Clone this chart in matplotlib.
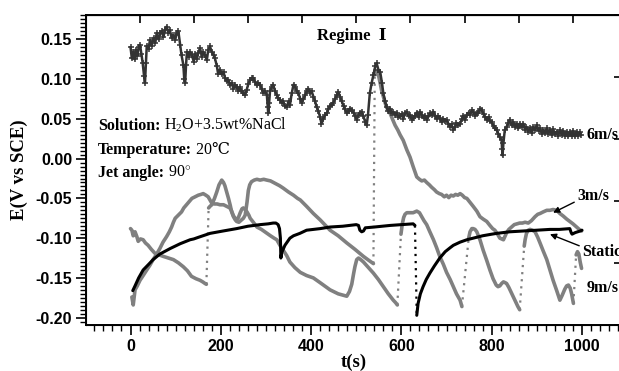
import matplotlib
matplotlib.use("Agg")
import matplotlib.pyplot as plt
from matplotlib.ticker import MultipleLocator, FixedLocator, NullFormatter

plt.rcParams["mathtext.fontset"] = "custom"
plt.rcParams["mathtext.rm"] = "Liberation Serif"
plt.rcParams["mathtext.bf"] = "Liberation Serif:bold"

SERIF = ["Liberation Serif", "DejaVu Serif", "Noto Sans CJK SC"]

# ---- 6 m/s (dark, noisy) ----
t_6ms = [0, 3, 6, 9, 12, 15, 18, 21, 24, 27, 30, 32, 34, 36, 40, 43, 47, 51, 55, 58,
         62, 66, 69, 73, 76, 80, 84, 87, 91, 95, 99, 102, 106, 110, 113, 117, 119, 121, 123, 125,
         129, 132, 136, 140, 143, 147, 150, 154, 158, 161, 165, 169, 172, 176, 180, 184, 187, 191, 194, 198,
         202, 206, 209, 213, 217, 220, 224, 228, 231, 235, 239, 242, 246, 250, 254, 257, 261, 265, 268, 272,
         276, 280, 283, 287, 291, 294, 298, 302, 304, 305, 307, 309, 313, 316, 320, 324, 327, 331, 335, 338,
         342, 346, 350, 353, 357, 361, 365, 368, 372, 376, 379, 383, 387, 390, 394, 398, 401, 405, 409, 412,
         416, 420, 423, 427, 431, 435, 438, 442, 446, 449, 453, 457, 460, 464, 468, 472, 475, 479, 483, 486,
         490, 494, 497, 501, 505, 508, 512, 516, 520, 523, 526, 530, 534, 538, 542, 545, 549, 553, 557, 560,
         564, 567, 571, 575, 578, 582, 586, 590, 593, 597, 601, 604, 608, 612, 616, 619, 623, 626, 630, 634,
         638, 641, 645, 649, 652, 656, 660, 664, 667, 671, 675, 678, 682, 685, 689, 693, 697, 700, 704, 708,
         711, 715, 719, 722, 726, 730, 734, 737, 741, 745, 749, 752, 756, 759, 763, 767, 770, 774, 778, 782,
         785, 789, 793, 796, 800, 804, 807, 811, 815, 818, 822, 823, 824, 826, 829, 833, 837, 840, 844, 848,
         851, 855, 859, 862, 866, 870, 874, 877, 881, 885, 889, 892, 896, 900, 904, 907, 911, 914, 918, 922,
         925, 929, 933, 936, 940, 944, 947, 951, 955, 958, 962, 966, 969, 973, 977, 980, 984, 988, 991, 995, 998]
e_6ms = [0.140, 0.126, 0.134, 0.125, 0.137, 0.129, 0.140, 0.143, 0.132, 0.120, 0.104, 0.095, 0.120, 0.142, 0.138, 0.149, 0.142, 0.152, 0.146, 0.158,
         0.150, 0.158, 0.160, 0.153, 0.162, 0.166, 0.158, 0.162, 0.152, 0.155, 0.149, 0.158, 0.160, 0.143, 0.130, 0.118, 0.100, 0.095, 0.118, 0.134,
         0.128, 0.134, 0.130, 0.122, 0.131, 0.125, 0.133, 0.139, 0.128, 0.134, 0.130, 0.124, 0.136, 0.141, 0.134, 0.130, 0.126, 0.117, 0.107, 0.112,
         0.106, 0.109, 0.102, 0.097, 0.099, 0.092, 0.095, 0.088, 0.093, 0.090, 0.085, 0.090, 0.085, 0.082, 0.080, 0.086, 0.094, 0.099, 0.101, 0.101,
         0.096, 0.092, 0.095, 0.093, 0.087, 0.083, 0.085, 0.080, 0.065, 0.057, 0.070, 0.085, 0.090, 0.093, 0.085, 0.080, 0.076, 0.074, 0.070, 0.072,
         0.066, 0.065, 0.072, 0.067, 0.082, 0.093, 0.090, 0.085, 0.082, 0.075, 0.070, 0.075, 0.080, 0.085, 0.088, 0.082, 0.085, 0.078, 0.072, 0.065,
         0.060, 0.052, 0.044, 0.050, 0.055, 0.057, 0.062, 0.066, 0.068, 0.070, 0.075, 0.080, 0.084, 0.078, 0.072, 0.066, 0.062, 0.057, 0.060, 0.063,
         0.061, 0.058, 0.054, 0.049, 0.055, 0.058, 0.059, 0.053, 0.046, 0.042, 0.055, 0.082, 0.095, 0.105, 0.116, 0.120, 0.112, 0.109, 0.095, 0.082,
         0.072, 0.065, 0.060, 0.063, 0.058, 0.059, 0.055, 0.058, 0.052, 0.053, 0.056, 0.050, 0.057, 0.059, 0.053, 0.055, 0.049, 0.051, 0.054, 0.058,
         0.052, 0.059, 0.055, 0.051, 0.054, 0.049, 0.053, 0.057, 0.055, 0.059, 0.054, 0.050, 0.053, 0.051, 0.046, 0.050, 0.047, 0.049, 0.044, 0.040,
         0.043, 0.036, 0.040, 0.045, 0.042, 0.044, 0.050, 0.054, 0.049, 0.055, 0.058, 0.055, 0.061, 0.059, 0.054, 0.058, 0.057, 0.063, 0.061, 0.056,
         0.052, 0.049, 0.052, 0.047, 0.046, 0.041, 0.038, 0.036, 0.031, 0.027, 0.023, 0.012, 0.004, 0.020, 0.036, 0.040, 0.045, 0.049, 0.042, 0.046,
         0.040, 0.044, 0.038, 0.044, 0.040, 0.044, 0.036, 0.040, 0.034, 0.038, 0.032, 0.040, 0.036, 0.042, 0.035, 0.038, 0.031, 0.036, 0.032, 0.038,
         0.031, 0.036, 0.030, 0.037, 0.031, 0.034, 0.029, 0.036, 0.030, 0.035, 0.029, 0.034, 0.028, 0.034, 0.029, 0.035, 0.028, 0.034, 0.029, 0.033, 0.030]

# ---- 3 m/s (gray), split at the potential jumps ----
t_3ms_a = [0, 3, 6, 10, 14, 17, 22, 28, 33, 39, 46, 54, 63, 73, 84, 95, 106, 117, 126, 135, 145, 154, 160, 165, 168]
e_3ms_a = [-0.088, -0.090, -0.097, -0.092, -0.098, -0.104, -0.101, -0.102, -0.106, -0.109, -0.114, -0.119, -0.121,
           -0.123, -0.125, -0.127, -0.131, -0.136, -0.141, -0.148, -0.151, -0.153, -0.155, -0.157, -0.158]
t_3ms_b = [173, 176, 180, 186, 191, 196, 202, 206, 209, 213, 217, 221, 224, 228, 232, 235, 240, 246, 250, 254,
           258, 261, 264, 268, 274, 280, 287, 295, 302, 310, 320, 330, 338, 350, 361, 370, 376, 390, 405, 420,
           442, 460, 479, 497, 516, 528, 538]
e_3ms_b = [-0.062, -0.060, -0.058, -0.050, -0.042, -0.033, -0.027, -0.030, -0.034, -0.042, -0.050, -0.059, -0.067,
           -0.073, -0.077, -0.079, -0.080, -0.077, -0.075, -0.071, -0.055, -0.040, -0.033, -0.029, -0.027, -0.026,
           -0.027, -0.026, -0.027, -0.028, -0.031, -0.034, -0.037, -0.042, -0.046, -0.050, -0.052, -0.060, -0.069,
           -0.077, -0.090, -0.097, -0.106, -0.114, -0.123, -0.128, -0.132]
t_3ms_c = [541, 544, 548, 553, 556, 560, 564, 567, 571, 575, 580, 586, 592, 597, 604, 612, 619, 626, 634, 640,
           645, 651, 656, 662, 667, 673, 678, 684, 689, 695, 700, 705, 710, 715, 720, 725, 730, 735, 740, 745,
           752, 759, 767, 774, 781, 789, 796, 802, 807, 813, 818, 822, 826, 830, 833, 838, 844, 850, 856, 862,
           868, 874, 881, 888, 896, 902, 907, 914, 922, 929, 936, 944, 951, 958, 966, 973, 980, 988, 994, 999]
e_3ms_c = [0.111, 0.106, 0.108, 0.095, 0.086, 0.078, 0.070, 0.065, 0.060, 0.057, 0.050, 0.042, 0.036, 0.030, 0.023,
           0.011, 0.002, -0.010, -0.023, -0.026, -0.028, -0.027, -0.030, -0.033, -0.036, -0.039, -0.042, -0.044,
           -0.045, -0.048, -0.046, -0.049, -0.046, -0.047, -0.045, -0.046, -0.044, -0.046, -0.049, -0.050, -0.055,
           -0.060, -0.066, -0.073, -0.076, -0.079, -0.084, -0.088, -0.090, -0.095, -0.100, -0.101, -0.102, -0.097,
           -0.093, -0.089, -0.086, -0.083, -0.082, -0.081, -0.081, -0.080, -0.081, -0.078, -0.073, -0.070, -0.069,
           -0.067, -0.065, -0.065, -0.064, -0.065, -0.069, -0.072, -0.076, -0.079, -0.082, -0.086, -0.089, -0.091]

# ---- 9 m/s (gray sawtooth) ----
t_9ms_a = [3, 6, 10, 15, 21, 28, 36, 43, 50, 58, 65, 72, 80, 86, 91, 95, 99, 106, 113, 118, 124, 130, 136, 143,
           150, 156, 161, 167, 172, 176, 180, 186, 192, 198, 206, 213, 220, 224, 228, 232, 235, 239, 243, 247,
           250, 254, 258, 262, 265, 272, 280, 290, 300, 310, 318, 324, 331, 338, 346, 353, 364, 376, 390, 405,
           420, 442, 460, 479, 485, 490, 494, 497, 501, 505, 510, 516, 527, 538, 549, 560, 571, 582, 587, 591]
e_9ms_a = [-0.174, -0.184, -0.165, -0.160, -0.153, -0.147, -0.140, -0.134, -0.127, -0.120, -0.113, -0.105, -0.098,
           -0.092, -0.086, -0.080, -0.075, -0.071, -0.067, -0.062, -0.058, -0.054, -0.050, -0.048, -0.046, -0.045,
           -0.044, -0.046, -0.048, -0.052, -0.056, -0.057, -0.057, -0.058, -0.058, -0.060, -0.062, -0.066, -0.072,
           -0.075, -0.077, -0.074, -0.068, -0.063, -0.062, -0.064, -0.067, -0.071, -0.075, -0.080, -0.086, -0.089,
           -0.093, -0.097, -0.100, -0.102, -0.109, -0.115, -0.122, -0.130, -0.137, -0.143, -0.147, -0.150, -0.156,
           -0.165, -0.170, -0.173, -0.167, -0.158, -0.145, -0.136, -0.127, -0.125, -0.127, -0.130, -0.137, -0.144,
           -0.152, -0.161, -0.170, -0.178, -0.181, -0.184]
t_9ms_b = [599, 602, 605, 608, 612, 619, 626, 634, 640, 645, 650, 656, 663, 671, 678, 685, 693, 700, 708, 715, 722, 730, 734]
e_9ms_b = [-0.095, -0.082, -0.074, -0.070, -0.068, -0.068, -0.068, -0.066, -0.068, -0.073, -0.078, -0.083, -0.092,
           -0.102, -0.112, -0.123, -0.133, -0.143, -0.152, -0.161, -0.170, -0.178, -0.186]
t_9ms_c = [749, 752, 756, 759, 763, 767, 774, 781, 789, 796, 803, 810, 814, 818, 822, 826, 830, 833, 838, 843, 848, 853, 858, 862]
e_9ms_c = [-0.100, -0.092, -0.088, -0.088, -0.089, -0.092, -0.102, -0.115, -0.128, -0.140, -0.151, -0.159, -0.161,
           -0.160, -0.157, -0.155, -0.156, -0.157, -0.162, -0.168, -0.174, -0.180, -0.186, -0.190]
t_9ms_d = [872, 874, 877, 881, 885, 890, 896, 902, 907, 914, 922, 929, 936, 944, 951, 956, 962, 966, 970, 974, 977, 981]
e_9ms_d = [-0.110, -0.102, -0.094, -0.090, -0.089, -0.090, -0.092, -0.099, -0.106, -0.116, -0.127, -0.140, -0.153,
           -0.166, -0.178, -0.172, -0.164, -0.160, -0.159, -0.163, -0.170, -0.182]
t_9ms_e = [987, 990, 993, 996, 999]
e_9ms_e = [-0.121, -0.117, -0.120, -0.130, -0.138]

# ---- Static (black) ----
t_static_a = [5, 10, 18, 28, 40, 50, 65, 88, 110, 132, 140, 150, 176, 205, 235, 260, 287, 305, 316, 322, 327, 330,
              332, 333, 335, 342, 353, 361, 375, 390, 420, 442, 470, 500, 505, 508, 512, 516, 520, 540, 575, 600, 626, 630]
e_static_a = [-0.166, -0.160, -0.150, -0.140, -0.133, -0.127, -0.120, -0.113, -0.107, -0.102, -0.101, -0.099, -0.094,
              -0.091, -0.088, -0.085, -0.083, -0.082, -0.081, -0.081, -0.083, -0.088, -0.100, -0.125, -0.118, -0.109,
              -0.100, -0.097, -0.094, -0.090, -0.088, -0.086, -0.085, -0.083, -0.084, -0.090, -0.092, -0.091, -0.087,
              -0.086, -0.084, -0.083, -0.082, -0.084]
t_static_b = [634, 637, 642, 648, 655, 663, 673, 685, 697, 708, 715, 730, 745, 759, 780, 800, 811, 840, 870, 900,
              929, 950, 973, 976, 978, 985, 996, 1000]
e_static_b = [-0.197, -0.182, -0.170, -0.161, -0.152, -0.144, -0.135, -0.125, -0.117, -0.112, -0.109, -0.105, -0.102,
              -0.100, -0.097, -0.095, -0.094, -0.092, -0.091, -0.090, -0.089, -0.089, -0.088, -0.093, -0.095, -0.093,
              -0.091, -0.090]

x_major = [0, 200, 400, 600, 800, 1000]
y_major = [-0.20, -0.15, -0.10, -0.05, 0.00, 0.05, 0.10, 0.15]
top_ticks = [20, 140, 260, 380, 500, 620, 740, 860, 980]

DARK = "#333333"
GRAY = "#808080"


def draw_segments(ax, segs, color, lw):
    # solid pieces joined by the sparse "jump" points (drawn dotted)
    for i, (t, e) in enumerate(segs):
        ax.plot(t, e, color=color, lw=lw, solid_capstyle="round", zorder=3)
        if i > 0:
            tp, ep = segs[i - 1]
            ax.plot([tp[-1], t[0]], [ep[-1], e[0]], color=color, lw=1.6,
                    ls=(0, (1, 2.2)), zorder=2)


fig = plt.figure(figsize=(6.19, 3.71), dpi=100)
ax = fig.add_axes([86 / 619, 46 / 371, 536 / 619, 310 / 371])

draw_segments(ax, [(t_9ms_a, e_9ms_a), (t_9ms_b, e_9ms_b), (t_9ms_c, e_9ms_c),
                   (t_9ms_d, e_9ms_d), (t_9ms_e, e_9ms_e)], GRAY, 2.6)
draw_segments(ax, [(t_3ms_a, e_3ms_a), (t_3ms_b, e_3ms_b), (t_3ms_c, e_3ms_c)], GRAY, 2.6)
draw_segments(ax, [(t_static_a, e_static_a), (t_static_b, e_static_b)], "black", 2.2)
ax.plot(t_6ms, e_6ms, color=DARK, lw=1.8, marker="+", ms=5, mew=1.1, zorder=4)

ax.set_xlim(-98.6, 1088.6)
ax.set_ylim(-0.2092, 0.1806)
ax.xaxis.set_major_locator(FixedLocator(x_major))
ax.xaxis.set_minor_locator(MultipleLocator(20))
ax.yaxis.set_major_locator(FixedLocator(y_major))
ax.yaxis.set_minor_locator(MultipleLocator(0.005))
ax.set_yticklabels([f"{v:.2f}" for v in y_major])
for s in ax.spines.values():
    s.set_linewidth(1.4)
ax.tick_params(which="major", direction="out", length=7, width=1.2, pad=3)
ax.tick_params(which="minor", direction="out", length=4, width=1.0)
ax.tick_params(top=False, right=False)
for lab in ax.get_xticklabels() + ax.get_yticklabels():
    lab.set_fontfamily("Liberation Sans")
    lab.set_fontweight("bold")
    lab.set_fontsize(11.5)

top = ax.secondary_xaxis("top")
top.set_xticks(top_ticks)
top.xaxis.set_major_formatter(NullFormatter())
top.tick_params(direction="in", length=6, width=1.2)

right = ax.twinx()
right.set_ylim(0, 5)
right.set_yticks([0, 1, 2, 3, 4, 5])
right.yaxis.set_major_formatter(NullFormatter())
right.tick_params(direction="in", length=6, width=1.2)

ax.set_xlabel("t(s)", family=SERIF, fontweight="bold", fontsize=13.5, labelpad=0)
ax.set_ylabel("E(V vs SCE)", family=SERIF, fontweight="bold", fontsize=13.5, labelpad=5)

ax.text(413, 0.154, "Regime  Ⅰ", family=SERIF, fontweight="bold", fontsize=12, va="center")

fs = 11.5
t1 = ax.text(-72, 0.0365, "Solution:", family=SERIF, fontweight="bold", fontsize=fs, va="baseline")
ax.annotate(" H$_2$O+3.5wt%NaCl", xy=(1, 0), xycoords=t1, va="bottom", ha="left",
            family=SERIF, fontsize=fs)
t2 = ax.text(-72, 0.0063, "Temperature:", family=SERIF, fontweight="bold", fontsize=fs, va="baseline")
ax.annotate(" 20℃", xy=(1, 0), xycoords=t2, va="bottom", ha="left", family=SERIF, fontsize=fs)
t3 = ax.text(-72, -0.0235, "Jet angle:", family=SERIF, fontweight="bold", fontsize=fs, va="baseline")
ax.annotate(" 90$^{\\circ}$", xy=(1, 0), xycoords=t3, va="bottom", ha="left", family=SERIF, fontsize=fs)

lab_kw = dict(family=SERIF, fontweight="bold", fontsize=11.5, va="center", ha="left")
ax.text(1011, 0.0297, "6m/s", **lab_kw)
ax.text(1011, -0.163, "9m/s", **lab_kw)
ax.annotate("3m/s", xy=(936, -0.068), xytext=(989, -0.047), **lab_kw,
            arrowprops=dict(arrowstyle="-|>", color="black", lw=1.0, mutation_scale=9,
                            shrinkA=0, shrinkB=0, relpos=(0, 0.2)))
ax.annotate("Static", xy=(929, -0.095), xytext=(1000, -0.117), **lab_kw,
            arrowprops=dict(arrowstyle="-|>", color="black", lw=1.0, mutation_scale=9,
                            shrinkA=0, shrinkB=0, relpos=(0, 0.8)))

fig.savefig("out.png", dpi=100)
